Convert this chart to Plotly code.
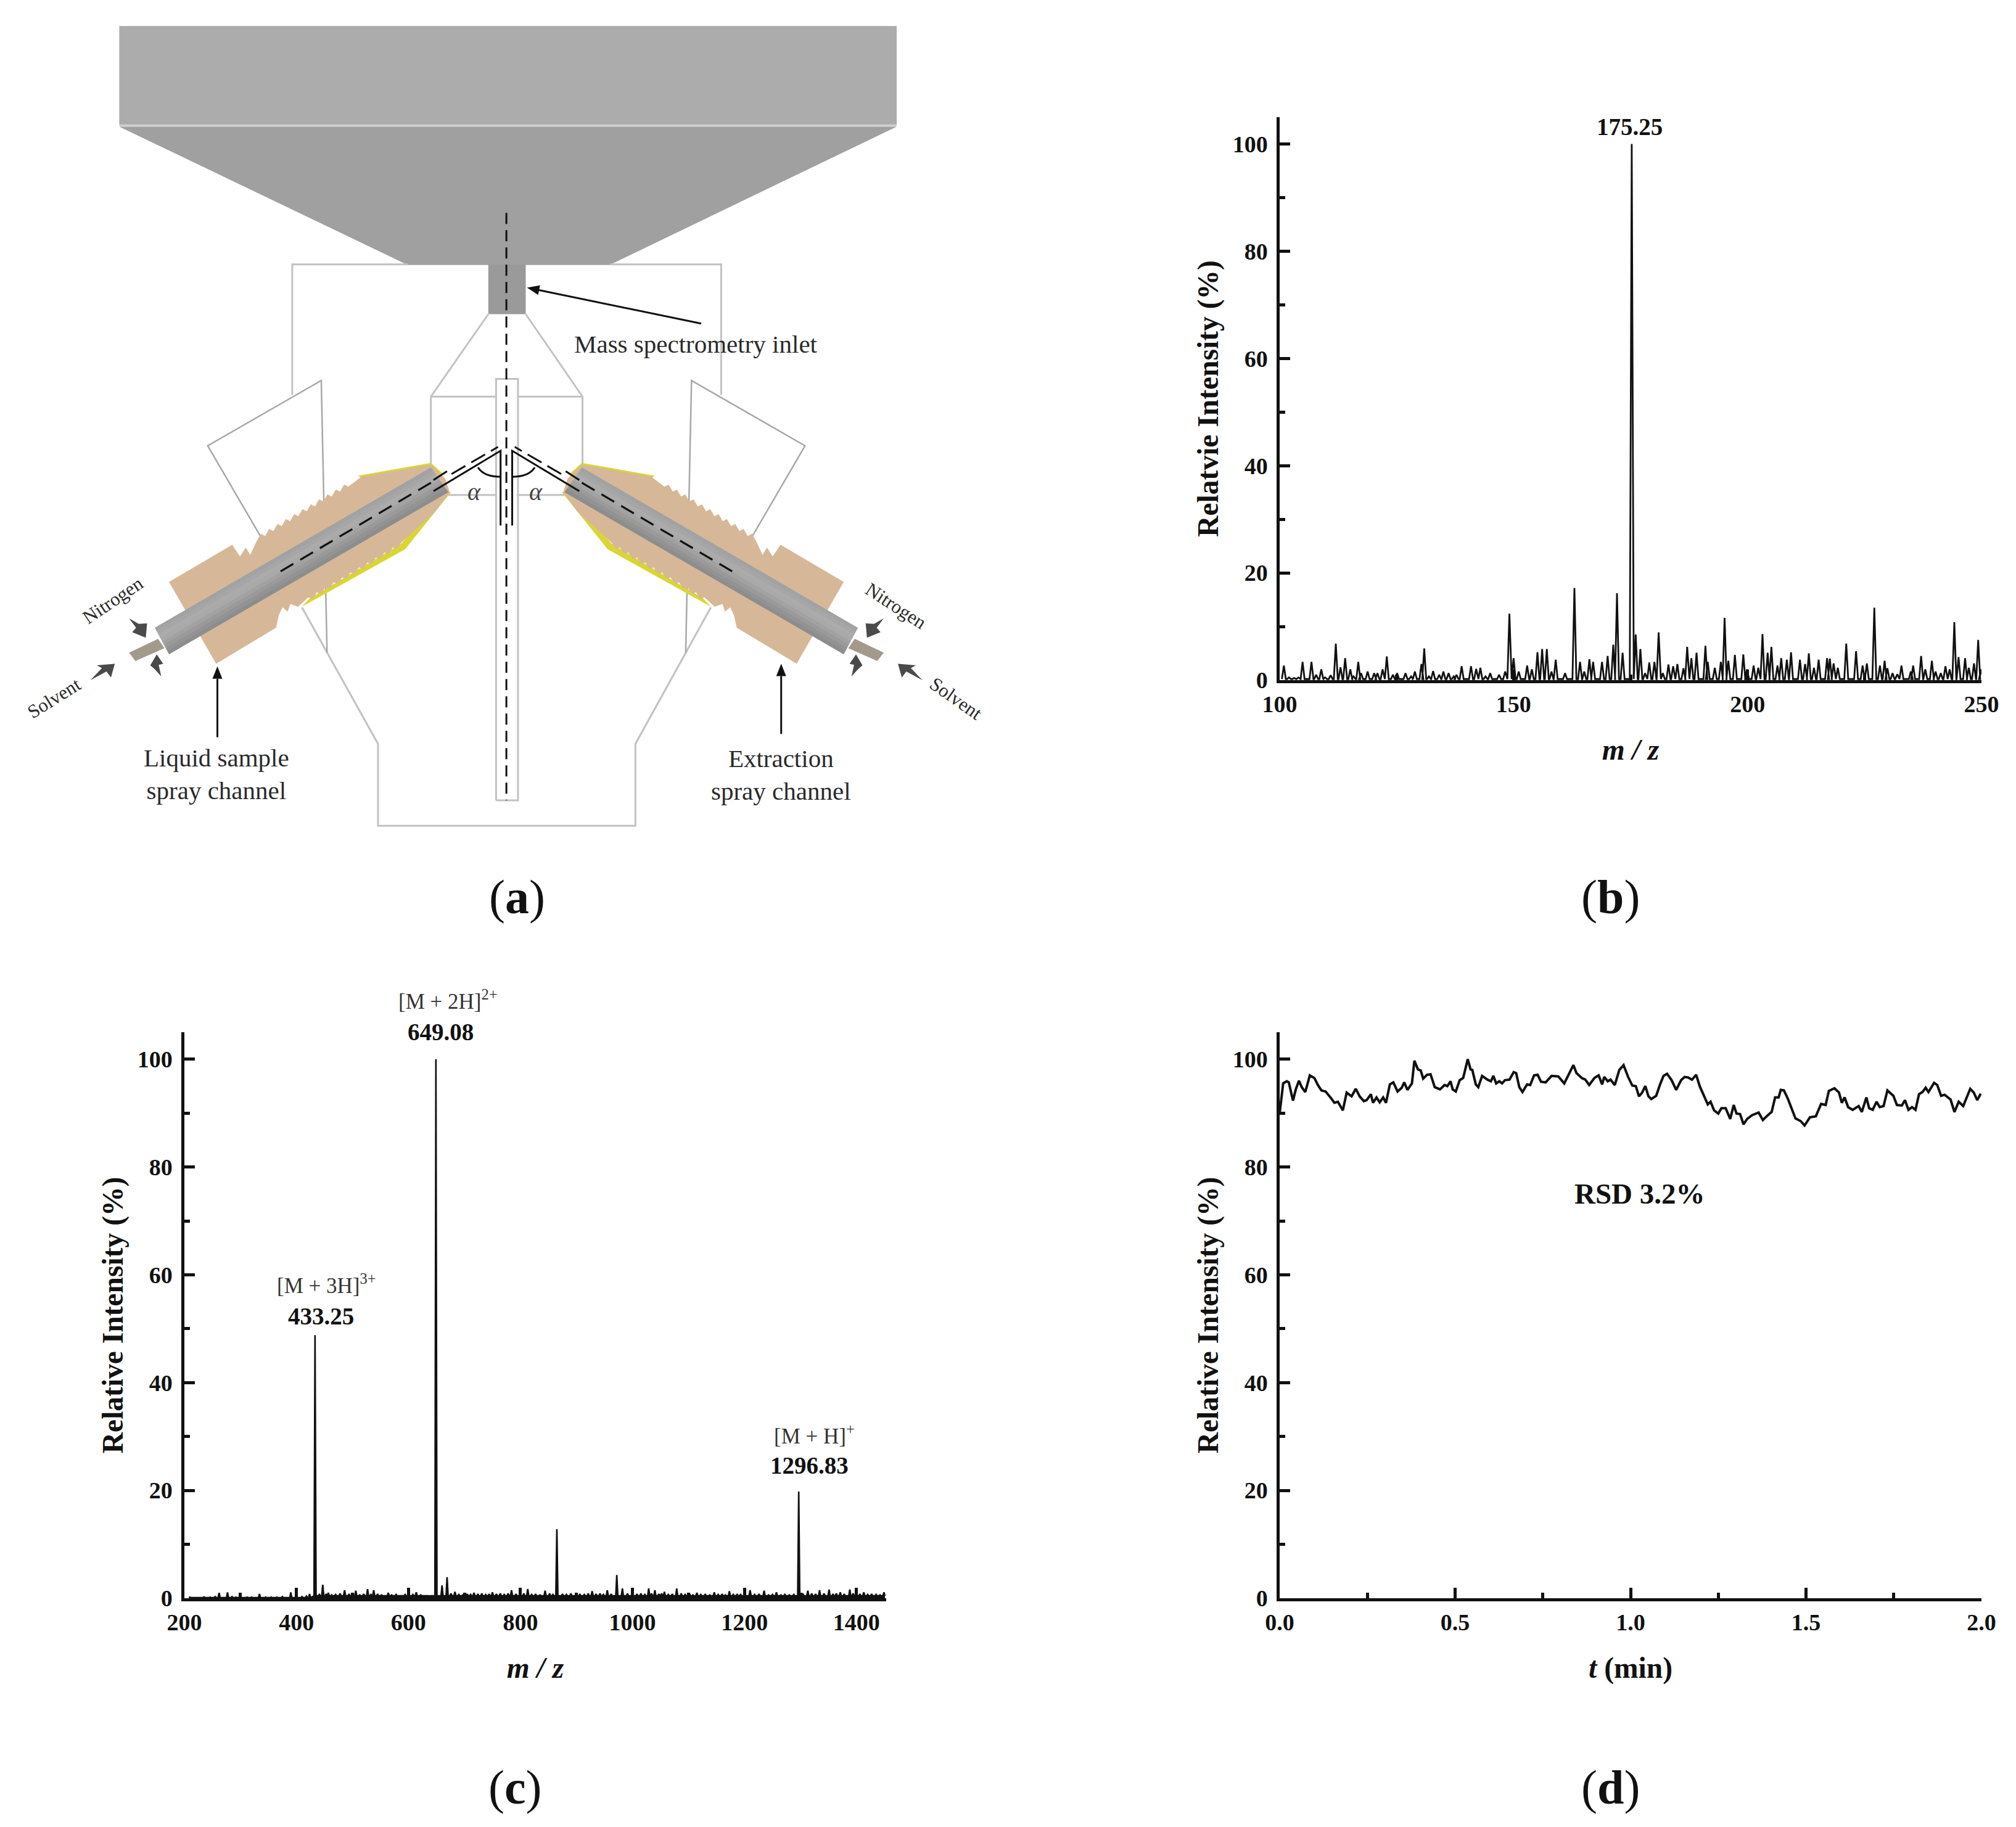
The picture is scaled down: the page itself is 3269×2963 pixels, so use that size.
import math
import plotly.graph_objects as go

# ---------------- data ----------------
mz_b = [100.9,102,103.1,104,104.9,106.8,107.8,108.9,109.7,110.9,112,113,114,115.1,115.8,116.8,117.4,118.8,120.2,120.9,122,122.9,124.2,125.1,126.9,128.1,128.9,130.3,130.9,131.9,132.8,134.1,135,136.1,137.2,137.8,138.9,140.9,142,142.9,144,145,146.9,148.2,
        149.1,150,151.1,152.9,153.9,155.1,156.1,157.1,158.1,159,161,163,164.2,165.1,166.2,167,168.9,170.1,171.3,172.1,173.3,175.25,176.1,177.1,178.1,179,180.1,181,181.9,183.1,184.1,185,186.3,187.1,188,189.1,191,191.5,193,194.3,195.1,195.9,197.3,
        199.1,199.9,201.3,202.3,203.2,204.3,205.1,206.4,207.2,208.4,209.3,211.2,212.3,213.1,214.2,215.2,217,217.6,218.4,219.3,221.1,223.2,224.6,225.5,227.1,228.3,229.3,229.9,231,232,232.9,234.9,235.4,237.1,238,239.4,240.2,241.3,242.3,243.2,244.2,245.1,246.5,247.3,248.4,249.3,249.9]
rel_b = [2.7,.5,.4,.5,3.4,3.4,1,2,.5,.9,6.8,2.4,4.1,2,.7,3.4,1.3,1.6,1.3,1.3,2,4.4,1,1.3,1.3,.7,1.6,3,5.9,.7,1.7,1,1.6,1.3,.7,1,2.6,2.6,2.1,2.3,.7,1.3,1,1.6,
         12.4,4.1,1.6,2.7,2,5.2,5.8,5.8,1.6,3.8,1.3,17.2,3.4,1.6,3.9,3.4,3.4,4.5,6.6,16.2,5.1,100,8.5,5.8,1.3,3.3,3.4,8.9,1.3,2.9,2.6,3,2.2,6.2,4.1,5.1,6.4,3.4,2.3,3.4,11.6,3.6,4.7,
         4.8,2,2.7,2.3,8.6,5.1,6.2,2.7,4.1,3.8,5.2,3.8,3,5,2.3,3.8,4.1,4,3.1,2.3,6.8,5.4,2.7,3.1,13.5,2.7,3.6,2.2,1.3,1.1,2.7,1.6,2.7,4.5,2,3.6,1.6,1.3,2.6,2,10.8,4.3,4.1,2.3,3.1,7.5,2]

mz_c = [262,277,334,390,423.5,433.25,447,457,486,506,527,538,564,614,649.08,660,669,683,717,750,784,813,844,865,928,955,972,982,1029,1040,1057,1079,1115,1146,1173,1210,1235,1257,1296.83,1313,1334,1351,1371,1388,1413,1449]
rel_c = [1,1.1,.8,1.1,.8,48.8,2.5,1,1.5,1.4,1.7,1.5,1,1.1,100,2.4,3.9,1.2,1,1.1,1.5,1.7,1.4,12.8,1.3,1.5,4.3,1.8,1.8,1.5,1.2,1.8,1,1.1,1.3,1.5,1.4,1.1,19.8,1.4,1.5,1.6,1.1,1.6,1.1,1.1]
noise_mz_c = [210,222,235,246,255,285,292,312,320,345,355,365,375,410,418,441,453,463,470,478,494,500,513,520,533,545,552,570,578,586,594,608,622,630,638,676,690,697,705,711,724,731,738,744,757,764,771,778,792,806,820,827,835,852,858,875,882,890,906,914,921,935,942,948,962,991,1008,1015,1022,1034,1047,1052,1064,1071,1087,1094,1102,1108,1122,1130,1138,1153,1160,1166,1180,1187,1193,1218,1226,1243,1250,1265,1272,1280,1288,1304,1320,1327,1342,1358,1364,1378,1394,1406,1420,1427,1435,1442]
noise_c = [.2,.15,.25,.2,.3,.3,.2,.2,.2,.2,.2,.2,.3,.3,.4,.7,.8,.6,.7,.9,.8,.7,.6,.8,.7,.8,.6,.6,.7,.5,.7,.7,.6,.5,.4,.9,.7,.6,.8,.7,.8,.9,.7,.8,.8,.9,.7,.9,.8,.9,.7,.8,.6,.9,.7,.8,.7,.9,.8,.7,.9,.8,.9,.7,.8,.9,.8,.9,.7,.9,.8,.9,.7,.8,.9,.7,.8,.6,.7,.8,.6,.7,.8,.6,.7,.8,.7,.7,.8,.6,.7,.6,.7,.6,.7,.9,.9,.8,.9,.8,.9,.8,.9,.8,.7,.8,.7,.6]

t_d = [0,.005,.01,.02,.026,.038,.046,.055,.063,.073,.086,.099,.109,.119,.131,.146,.156,.166,.18,.191,.205,.217,.228,.24,.248,.26,.266,.276,.285,.295,.303,.314,.324,.336,.348,.355,.364,.377,.384,.394,.402,.409,.42,.43,.442,.457,.47,.478,.487,.493,.502,.513,.523,.536,.544,.549,.559,.566,.577,.592,.602,.609,.617,.626,.634,.642,.655,.667,.674,.683,.692,.705,.714,.725,.735,.745,.758,.775,.794,.811,.824,.837,.846,.861,.871,.882,.897,.909,.919,.925,.935,.943,.955,.968,.98,.993,
       1.005,1.015,1.024,1.033,1.042,1.051,1.059,1.073,1.084,1.094,1.104,1.117,1.13,1.144,1.154,1.164,1.175,1.187,1.197,1.21,1.22,1.228,1.238,1.25,1.259,1.271,1.284,1.294,1.302,1.312,1.322,1.332,1.346,1.365,1.377,1.391,1.402,1.412,1.422,1.428,1.437,1.448,1.458,1.47,1.485,1.496,1.511,1.528,1.543,1.556,1.565,1.581,1.594,1.602,1.61,1.62,1.633,1.65,1.659,1.672,1.68,1.69,1.701,1.71,1.721,1.732,1.749,1.759,1.773,1.782,1.792,1.802,1.812,1.822,1.832,1.841,1.849,1.865,1.874,1.885,1.895,1.912,1.923,1.935,1.948,1.968,1.978,1.988,1.998]
rel_d = [90,92.9,95.5,95.9,95.7,92.3,94.4,96,94.8,93.9,97,96.5,95.2,94.2,94,92.8,91.9,92.1,90.5,93.8,93.1,94.5,93.1,92.2,92.4,93.5,91.9,92.9,92,92.9,91.9,95.3,95.7,94,94.7,95.7,94.3,95.5,99.7,98.1,97.9,96.4,97.1,97.2,94.8,94.4,95.2,95,95.9,94.4,94,96.1,96.5,100,98.1,98,95.3,94.8,96.9,96.2,95.9,96.9,95.5,95.9,95.5,96.1,96.2,97.6,97.4,94.8,93.9,95.3,95.2,97,97.1,95.8,95.7,96.9,96.8,95.5,97.1,98.9,97.4,96.5,96.2,95.2,96.5,97,95.3,96.7,95.9,96.2,95.2,98,98.9,96.7,
         95.1,95,93.1,93.8,95,93.1,92.6,93.2,95.3,96.9,97.3,96.1,94.3,96.1,96.7,96.6,96.2,97.1,95,93.1,91.6,92.1,90.5,89.9,90.9,90.9,88.9,91.5,89.9,89.8,87.9,88.9,89.6,90.1,88.7,89.6,90.2,92.9,92.9,94.3,94.2,92.7,91,89,88.5,87.7,89.2,89.4,91.7,91.5,94.1,94.6,93.8,91.9,92.9,91.1,90.6,91.3,90.2,92.9,90.9,90.6,92.1,91.1,91.3,94.2,93.2,91.5,91.4,92.4,90.6,91.1,90.6,93.5,93.9,94.7,93.9,95.6,95.2,93.2,93.4,92.5,90.2,92.1,91.3,94.5,93.8,92.4,93.6]

y_ticks = [0,20,40,60,80,100]
x_ticks_b = [100,150,200,250]
x_ticks_c = [200,400,600,800,1000,1200,1400]
x_ticks_d = [0.0,0.5,1.0,1.5,2.0]

W, H = 3269, 2963
SERIF = "Liberation Serif"
INK = "#111111"
LINE_GREY = "#c2c2c2"

def sticks(mz, rel, half, valley):
    xs, ys = [], []
    for m, r in sorted(zip(mz, rel)):
        v = valley(m)
        xs += [m - half, m, m + half]
        ys += [v, r, v]
    return xs, ys

fig = go.Figure()

# ---------------- spectra ----------------
bx, by = sticks(mz_b, rel_b, 0.42, lambda m: 0.2)
fig.add_trace(go.Scatter(x=bx, y=by, mode="lines", line=dict(color=INK, width=2.8), xaxis="x", yaxis="y", showlegend=False))
cx, cy = sticks(mz_c + noise_mz_c, rel_c + noise_c, 1.8, lambda m: 0.1 if m < 430 else 0.45)
fig.add_trace(go.Scatter(x=cx, y=cy, mode="lines", fill="tozeroy", fillcolor=INK, line=dict(color=INK, width=2.6), xaxis="x2", yaxis="y2", showlegend=False))
fig.add_trace(go.Scatter(x=t_d, y=rel_d, mode="lines", line=dict(color=INK, width=4), xaxis="x3", yaxis="y3", showlegend=False))

def axis(dom, rng, ticks, minor, title, standoff, anchor, ticklab, tfmt=None):
    d = dict(domain=dom, range=rng, tickmode="array", tickvals=ticks, showgrid=False, zeroline=False, automargin=False,
             anchor=anchor, showline=True, linewidth=4.5, linecolor=INK, ticks="inside", ticklen=17, tickwidth=4.5, tickcolor=INK,
             tickfont=dict(family=SERIF, size=38, color=INK, weight="bold"), ticklabelstandoff=ticklab,
             minor=dict(ticks="inside", ticklen=9, tickwidth=4.5, tickcolor=INK, dtick=minor, tick0=0, showgrid=False),
             title=dict(text=title, font=dict(family=SERIF, size=47.5, color=INK, weight="bold"), standoff=standoff))
    if tfmt:
        d["tickformat"] = tfmt
    return d

def dx(a, b): return [a / W, b / W]
def dy(a, b): return [1 - b / H, 1 - a / H]

XLAB, YLAB = 2, 7
layout_axes = dict(
    xaxis=axis(dx(2075, 3213), [100, 250], x_ticks_b, 25, "<i>m / z</i>", 38, "y", XLAB),
    yaxis=axis(dy(190, 1103), [0, 105], y_ticks, 10, "Relatvie Intensity (%)", 10, "x", YLAB),
    xaxis2=axis(dx(299, 1437), [200, 1453], x_ticks_c, 100, "<i>m / z</i>", 38, "y2", XLAB),
    yaxis2=axis(dy(1674, 2592), [0, 105], y_ticks, 10, "Relative Intensity (%)", 10, "x2", YLAB),
    xaxis3=axis(dx(2075, 3213), [0, 2], x_ticks_d, 0.25, "<i>t</i> (min)", 38, "y3", XLAB, tfmt=".1f"),
    yaxis3=axis(dy(1674, 2592), [0, 105], y_ticks, 10, "Relative Intensity (%)", 10, "x3", YLAB),
)

# ---------------- schematic (a) ----------------
SX, SY = 1.046, 0.897          # sheet units -> page pixels
MIRROR = 1570                  # sheet x of the symmetry axis * 2
shapes = []

def page(p):
    return p[0] * SX / W, 1 - p[1] * SY / H

def poly(points, fill, line=None, width=0, closed=True, dash=None, layer="above"):
    path = ""
    for i, p in enumerate(points):
        x, y = page(p)
        path += ("M" if i == 0 else "L") + f"{x:.5f},{y:.5f} "
    if closed:
        path += "Z"
    shapes.append(dict(type="path", path=path, xref="paper", yref="paper", layer=layer,
                       fillcolor=fill if fill else "rgba(0,0,0,0)",
                       line=dict(color=line if line else "rgba(0,0,0,0)", width=width, dash=dash or "solid")))

def m(points):
    return [(MIRROR - x, y) for x, y in points]

def both(points, *a, **k):
    poly(points, *a, **k)
    poly(m(points), *a, **k)

def stroke(points, color=LINE_GREY, width=3, dash=None):
    poly(points, None, line=color, width=width, closed=False, dash=dash)

def bstroke(points, **k):
    stroke(points, **k)
    stroke(m(points), **k)

def teeth(p0, p1, n, ox, oy):
    pts = []
    for i in range(n):
        a = i / n; b = (i + 0.65) / n
        pts.append((p0[0] + (p1[0] - p0[0]) * a, p0[1] + (p1[1] - p0[1]) * a))
        pts.append((p0[0] + (p1[0] - p0[0]) * b + ox, p0[1] + (p1[1] - p0[1]) * b + oy))
    pts.append(p1)
    return pts

# detector block and funnel
poly([(185, 47), (1390, 47), (1390, 229), (185, 229)], "#cfcfcf")
poly([(185, 47), (1390, 47), (1390, 225), (185, 225)], "#acacac")
poly([(185, 229), (1390, 229), (945, 479), (632, 479)], "#a0a0a0")
poly([(757, 478), (815, 478), (815, 568), (757, 568)], "#9a9a9a")

# housing outlines
stroke([(632, 478), (453, 478), (453, 714)])
stroke([(945, 478), (1118, 478), (1118, 714)])
stroke([(757, 568), (668, 717), (668, 845)])
stroke([(815, 568), (903, 717), (903, 845)])
stroke([(668, 717), (769, 717)])
stroke([(803, 717), (903, 717)])
bstroke([(695, 895), (769, 895)])
stroke([(769, 1447), (769, 685), (803, 685), (803, 1447), (769, 1447)], width=3)
stroke([(468, 1098), (586, 1345), (586, 1493), (985, 1493), (985, 1345), (1102, 1098)])
bstroke([(405, 972), (322, 806), (498, 688), (507, 1180)], color="#a8a8a8", width=2.5)

# threaded fittings
both([(555, 860), (668, 837), (690, 860), (670, 850), (565, 868)], "#d9d632")
both([(468, 1097), (628, 993), (699, 890), (692, 888), (622, 983), (480, 1082)], "#d9d632")
upper = teeth((398, 978), (540, 880), 11, -2, -7)
lower = teeth((622, 981), (478, 1080), 11, 2, 6)
fitting = [(262, 1052), (360, 985), (372, 1006), (381, 990), (388, 1003)] + upper + [(560, 862), (668, 840), (690, 865), (697, 890), (675, 925)] + lower + \
          [(462, 1097), (450, 1092), (446, 1106), (438, 1098), (432, 1113), (428, 1135), (335, 1200)]
both(fitting, "#d6b898")

# needle and sprayer tube
both([(200, 1180), (245, 1155), (255, 1172), (210, 1195)], "#a39a8c")
tube_colors = ["#a2a2a2", "#a6a6a6", "#ababab", "#a9a9a9", "#a2a2a2", "#9a9a9a", "#939393", "#8d8d8d"]
A, B, C, D = (668, 845), (695, 890), (262, 1183), (240, 1135)
for i, col in enumerate(tube_colors):
    a = i / len(tube_colors); b = min((i + 1.08) / len(tube_colors), 1)
    strip = [(A[0] + (B[0] - A[0]) * a, A[1] + (B[1] - A[1]) * a), (A[0] + (B[0] - A[0]) * b, A[1] + (B[1] - A[1]) * b),
             (D[0] + (C[0] - D[0]) * b, D[1] + (C[1] - D[1]) * b), (D[0] + (C[0] - D[0]) * a, D[1] + (C[1] - D[1]) * a)]
    both(strip, col)

# little flow arrows
ARROW = "#4a4a4a"
both([(140, 1230), (158, 1208), (150, 1203), (178, 1200), (172, 1225), (165, 1214)], ARROW)
both([(200, 1118), (215, 1128), (228, 1127), (226, 1153), (205, 1143), (211, 1135)], ARROW)
both([(250, 1223), (240, 1210), (233, 1203), (243, 1183), (253, 1200), (246, 1202)], ARROW)

# spray geometry
BLK = "#111111"
stroke([(785, 385), (785, 1447)], color=BLK, width=3, dash="18px,10px")
bstroke([(435, 1033), (672, 870)], color=BLK, width=3.2, dash="24px,13px")
bstroke([(700, 857), (772, 808)], color=BLK, width=3, dash="26px,11px")
bstroke([(672, 888), (776, 815), (776, 950)], color=BLK, width=3)
bstroke([(672, 868), (693, 852)], color=BLK, width=3)
for side in (lambda p: p, m):
    p0, c, p1 = side([(741, 845), (750, 862), (776, 862)])
    a = page(p0); q = page(c); e = page(p1)
    shapes.append(dict(type="path", path=f"M{a[0]:.5f},{a[1]:.5f} Q{q[0]:.5f},{q[1]:.5f} {e[0]:.5f},{e[1]:.5f}",
                       xref="paper", yref="paper", line=dict(color=BLK, width=3), fillcolor="rgba(0,0,0,0)"))

def pointer(tip, tail):
    ang = math.atan2((tip[1] - tail[1]) * SY, (tip[0] - tail[0]) * SX)
    L, w = 20, 8
    bx_ = tip[0] * SX - L * math.cos(ang); by_ = tip[1] * SY - L * math.sin(ang)
    nx, ny = -math.sin(ang) * w, math.cos(ang) * w
    stroke([tail, ((bx_) / SX, (by_) / SY)], color=BLK, width=3)
    poly([tip, ((bx_ + nx) / SX, (by_ + ny) / SY), ((bx_ - nx) / SX, (by_ - ny) / SY)], BLK)

pointer((817, 520), (1087, 585))
pointer((337, 1205), (337, 1333))
pointer((1211, 1200), (1211, 1327))

# ---------------- texts ----------------
ann = []
TXT = "#2a2a2a"

def label(text, x, y, size=41, rot=0, color=TXT):
    ann.append(dict(text=text, x=x / W, y=1 - y / H, xref="paper", yref="paper", xanchor="center", yanchor="middle",
                    showarrow=False, textangle=rot, font=dict(family=SERIF, size=size, color=color)))

label("Mass spectrometry inlet", 1128, 558)
label("Liquid sample<br>spray channel", 351, 1255)
label("Extraction<br>spray channel", 1266, 1257)
label("Nitrogen", 183, 974, size=31, rot=-34)
label("Solvent", 87, 1132, size=31, rot=-32)
label("Nitrogen", 1453, 982, size=31, rot=33)
label("Solvent", 1550, 1132, size=31, rot=35)
label("<i>α</i>", 769, 797, size=40, color="#444444")
label("<i>α</i>", 869, 797, size=40, color="#444444")

label("(<b>a</b>)", 838, 1455, size=78, color=BLK)
label("(<b>b</b>)", 2611, 1455, size=78, color=BLK)
label("(<b>c</b>)", 836, 2898, size=78, color=BLK)
label("(<b>d</b>)", 2611, 2898, size=78, color=BLK)

def peak_note(text, x, y, ax, xshift, yshift, bold=True, size=39, color=INK):
    ann.append(dict(text=f"<b>{text}</b>" if bold else text, x=x, y=y, xref=ax[0], yref=ax[1], xanchor="center", yanchor="middle",
                    showarrow=False, xshift=xshift, yshift=yshift, font=dict(family=SERIF, size=size, color=color)))

peak_note("175.25", 175.25, 100, ("x", "y"), -3, 28)
peak_note("649.08", 649.08, 100, ("x2", "y2"), 8, 44)
peak_note("433.25", 433.25, 48.8, ("x2", "y2"), 10, 31)
peak_note("1296.83", 1296.83, 19.8, ("x2", "y2"), 17, 42)
peak_note("[M + 2H]<sup>2+</sup>", 649.08, 100, ("x2", "y2"), 20, 96, bold=False, size=35, color="#333333")
peak_note("[M + 3H]<sup>3+</sup>", 433.25, 48.8, ("x2", "y2"), 19, 83, bold=False, size=35, color="#333333")
peak_note("[M + H]<sup>+</sup>", 1296.83, 19.8, ("x2", "y2"), 25, 92, bold=False, size=35, color="#333333")
peak_note("RSD 3.2%", 1.027, 75, ("x3", "y3"), 0, 0, size=47)

fig.update_layout(width=W, height=H, margin=dict(l=0, r=0, t=0, b=0, pad=0), autosize=False,
                  paper_bgcolor="white", plot_bgcolor="white", showlegend=False,
                  shapes=shapes, annotations=ann, **layout_axes)

fig.write_html("out.html", config={"displayModeBar": False},
               post_script="document.body.style.margin='0';")
